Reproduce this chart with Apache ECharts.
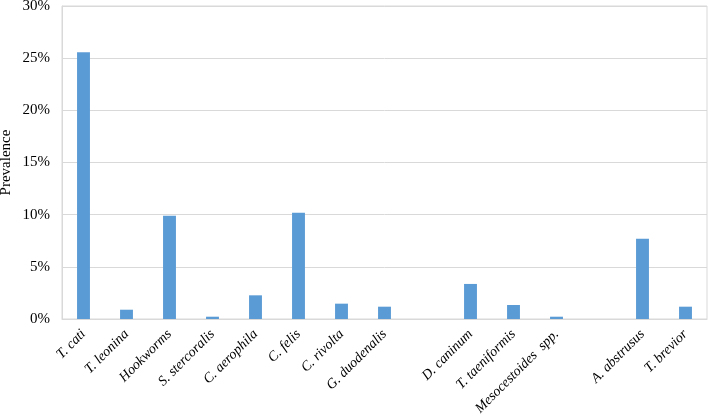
<!DOCTYPE html>
<html><head><meta charset="utf-8">
<script src="https://cdn.jsdelivr.net/npm/echarts@6/dist/echarts.min.js"></script>
<style>html,body{margin:0;padding:0;background:#fff}#c{width:708px;height:417px}</style>
</head><body><div id="c"></div>
<script>
var categories = ['T. cati','T. leonina','Hookworms','S. stercoralis','C. aerophila','C. felis','C. rivolta','G. duodenalis','','D. caninum','T. taeniformis','Mesocestoides  spp.','','A. abstrusus','T. brevior'];
var prevalence = [25.56, 0.89, 9.9, 0.22, 2.27, 10.19, 1.47, 1.18, null, 3.36, 1.34, 0.22, null, 7.7, 1.18];
var yTicks = [0, 5, 10, 15, 20, 25, 30];
var serif = '"Liberation Serif", "Times New Roman", serif';
var chart = echarts.init(document.getElementById('c'));
chart.setOption({
  animation: false,
  grid: {left: 62, right: 1, top: 6, bottom: 98, show: true, borderColor: '#d9d9d9', borderWidth: 1, containLabel: false, outerBoundsMode: 'none'},
  xAxis: {
    type: 'category', data: categories,
    axisLine: {lineStyle: {color: '#d9d9d9'}}, axisTick: {show: false},
    axisLabel: {interval: 0, rotate: 45, margin: 13, color: '#000', fontFamily: serif, fontStyle: 'italic', fontSize: 14, hideOverlap: false}
  },
  yAxis: {
    type: 'value', min: yTicks[0], max: yTicks[yTicks.length-1], interval: 5,
    name: 'Prevalence', nameLocation: 'middle', nameGap: 48, nameRotate: 90, nameMoveOverlap: false,
    nameTextStyle: {color: '#000', fontFamily: serif, fontSize: 15},
    axisLine: {show: true, lineStyle: {color: '#d9d9d9'}}, axisTick: {show: false},
    splitLine: {lineStyle: {color: '#d9d9d9'}},
    axisLabel: {formatter: '{value}%', color: '#000', fontFamily: serif, fontSize: 15, margin: 12}
  },
  series: [{type: 'bar', data: prevalence, barWidth: '30%', itemStyle: {color: '#5b9bd5'}}]
});
</script></body></html>
